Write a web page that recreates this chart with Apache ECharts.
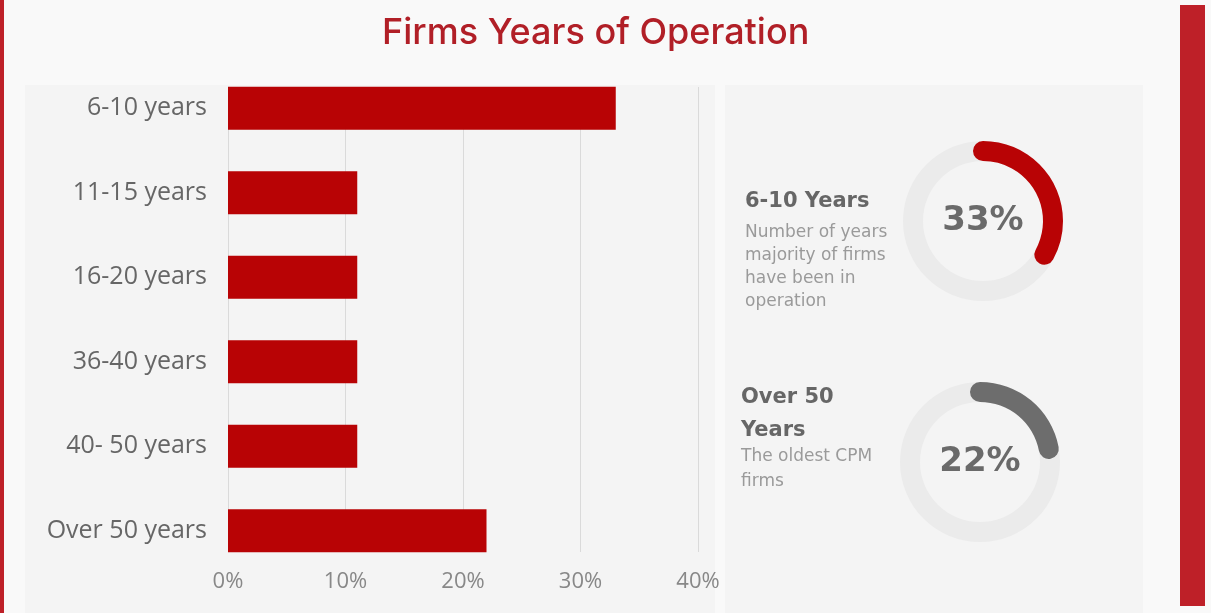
<!DOCTYPE html>
<html><head><meta charset="utf-8">
<script src="https://cdn.jsdelivr.net/npm/echarts@6/dist/echarts.min.js"></script>
<style>html,body{margin:0;padding:0;background:#f9f9f9;}#c{width:1211px;height:613px;}</style>
</head><body><div id="c"></div>
<script>
const categories = ['6-10 years', '11-15 years', '16-20 years', '36-40 years', '40- 50 years', 'Over 50 years'];
const shares = [33, 11, 11, 11, 11, 22];
const axisMin = 0, axisMax = 40, axisStep = 10;
const donutValues = [33, 22];
const donutTitles = ['6-10 Years', 'Over 50\nYears'];
const donutNotes = ['Number of years\nmajority of firms\nhave been in\noperation', 'The oldest CPM\nfirms'];

const chart = echarts.init(document.getElementById('c'));
const gauge = (center, value, color) => ({
  type: 'gauge', center: center, radius: 80, startAngle: 90, endAngle: -270,
  min: 0, max: 100, silent: true,
  pointer: {show: false},
  progress: {show: true, roundCap: true, width: 20, itemStyle: {color: color}},
  axisLine: {lineStyle: {width: 20, color: [[1, '#ebebeb']]}},
  splitLine: {show: false}, axisTick: {show: false}, axisLabel: {show: false},
  title: {show: false},
  detail: {formatter: '{value}%', offsetCenter: [0, 0], fontSize: 34, fontWeight: 'bold',
           fontFamily: 'DejaVu Sans', color: '#6a6a6a'},
  data: [{value: value}]
});
chart.setOption({
  animation: false,
  backgroundColor: '#f9f9f9',
  title: {text: 'Firms Years of Operation', left: 377, top: 10,
    textStyle: {color: '#b11f27', fontSize: 36, fontWeight: 500, fontFamily: 'Inter'}},
  graphic: [
    {type: 'rect', z: -10, shape: {x: 0, y: 0, width: 4, height: 613}, style: {fill: '#be2028'}},
    {type: 'rect', z: -10, shape: {x: 1180, y: 5, width: 25, height: 601}, style: {fill: '#be2028'}},
    {type: 'rect', z: -10, shape: {x: 25, y: 85, width: 690, height: 528}, style: {fill: '#f4f4f4'}},
    {type: 'rect', z: -10, shape: {x: 725, y: 85, width: 418, height: 528}, style: {fill: '#f4f4f4'}},
    {type: 'text', style: {text: donutTitles[0], x: 745, y: 191, fill: '#666', font: 'bold 21px "DejaVu Sans"'}},
    {type: 'text', style: {text: donutNotes[0], x: 745, y: 221, fill: '#9a9a9a', font: '17px "DejaVu Sans"', lineHeight: 23}},
    {type: 'text', style: {text: donutTitles[1], x: 741, y: 381, fill: '#666', font: 'bold 21px "DejaVu Sans"', lineHeight: 33}},
    {type: 'text', style: {text: donutNotes[1], x: 741, y: 444, fill: '#9a9a9a', font: '17px "DejaVu Sans"', lineHeight: 25}}
  ],
  grid: [
    {left: 228, right: 513, top: 66, height: 507},
    {left: 228, right: 513, top: 87, height: 465}
  ],
  xAxis: [
    {gridIndex: 0, type: 'value', min: axisMin, max: axisMax, interval: axisStep, show: false},
    {gridIndex: 1, type: 'value', min: axisMin, max: axisMax, interval: axisStep,
     axisLine: {show: false}, axisTick: {show: false},
     splitLine: {show: true, lineStyle: {color: '#dadada', width: 1}},
     axisLabel: {formatter: '{value}%', color: '#888', fontSize: 22, fontFamily: 'Open Sans', margin: 19}}
  ],
  yAxis: [
    {gridIndex: 0, type: 'category', data: categories, inverse: true,
     axisLine: {show: false}, axisTick: {show: false}, splitLine: {show: false},
     axisLabel: {color: '#666', fontSize: 25, fontFamily: 'Open Sans', margin: 21}},
    {gridIndex: 1, type: 'category', data: categories, show: false}
  ],
  series: [
    {type: 'bar', xAxisIndex: 0, yAxisIndex: 0, data: shares, barWidth: 43,
     itemStyle: {color: '#b80305'}, silent: true},
    gauge([983, 221], donutValues[0], '#b80305'),
    gauge([980, 462], donutValues[1], '#6d6d6d')
  ]
});
</script></body></html>
